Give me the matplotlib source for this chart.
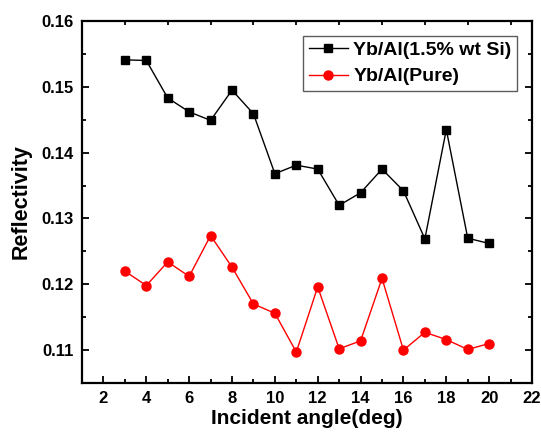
#!/usr/bin/env python3
# Reflectivity vs incident angle for Yb/Al multilayers

import matplotlib.pyplot as plt
from matplotlib.ticker import MultipleLocator

plt.rcParams["font.family"] = ["Liberation Sans", "DejaVu Sans"]
plt.rcParams["font.weight"] = "bold"

angle = [3, 4, 5, 6, 7, 8, 9, 10, 11, 12, 13, 14, 15, 16, 17, 18, 19, 20]
refl_si = [0.1541, 0.1540, 0.1483, 0.1462, 0.1449, 0.1495, 0.1459, 0.1368, 0.1381,
           0.1375, 0.1320, 0.1339, 0.1375, 0.1342, 0.1269, 0.1435, 0.1270, 0.1262]
refl_pure = [0.1220, 0.1198, 0.1234, 0.1212, 0.1274, 0.1226, 0.1170, 0.1156, 0.1097,
             0.1196, 0.1102, 0.1114, 0.1209, 0.1100, 0.1127, 0.1116, 0.1101, 0.1110]

fig = plt.figure(figsize=(5.41, 4.34), dpi=100)
ax = fig.add_axes([0.1516, 0.1175, 0.8318, 0.8341])

ax.plot(angle, refl_si, color="black", marker="s", markersize=6, linewidth=1,
        label="Yb/Al(1.5% wt Si)")
ax.plot(angle, refl_pure, color="red", marker="o", markersize=6.5, linewidth=1,
        label="Yb/Al(Pure)")

ax.set_xlim(1, 22)
ax.set_ylim(0.105, 0.16)
ax.xaxis.set_minor_locator(MultipleLocator(1))
ax.yaxis.set_minor_locator(MultipleLocator(0.005))
ax.set_xticks(range(2, 23, 2))
ax.set_yticks([0.11, 0.12, 0.13, 0.14, 0.15, 0.16])

for s in ax.spines.values():
    s.set_linewidth(1.6)
ax.tick_params(which="both", direction="in", width=1.3, labelsize=12)
ax.tick_params(which="major", length=5, top=False, right=True, pad=6)
ax.tick_params(which="minor", length=3, top=True, right=True)

ax.set_xlabel("Incident angle(deg)", fontsize=15, fontweight="bold", labelpad=2)
ax.set_ylabel("Reflectivity", fontsize=15.5, fontweight="bold", labelpad=7)

leg = ax.legend(loc="upper right", fontsize=14, frameon=True, fancybox=False,
                edgecolor="#333333", borderaxespad=0.75, handletextpad=0.3,
                borderpad=0.3, labelspacing=0.45)
leg.get_frame().set_linewidth(1)

plt.savefig("out.png", dpi=100)
